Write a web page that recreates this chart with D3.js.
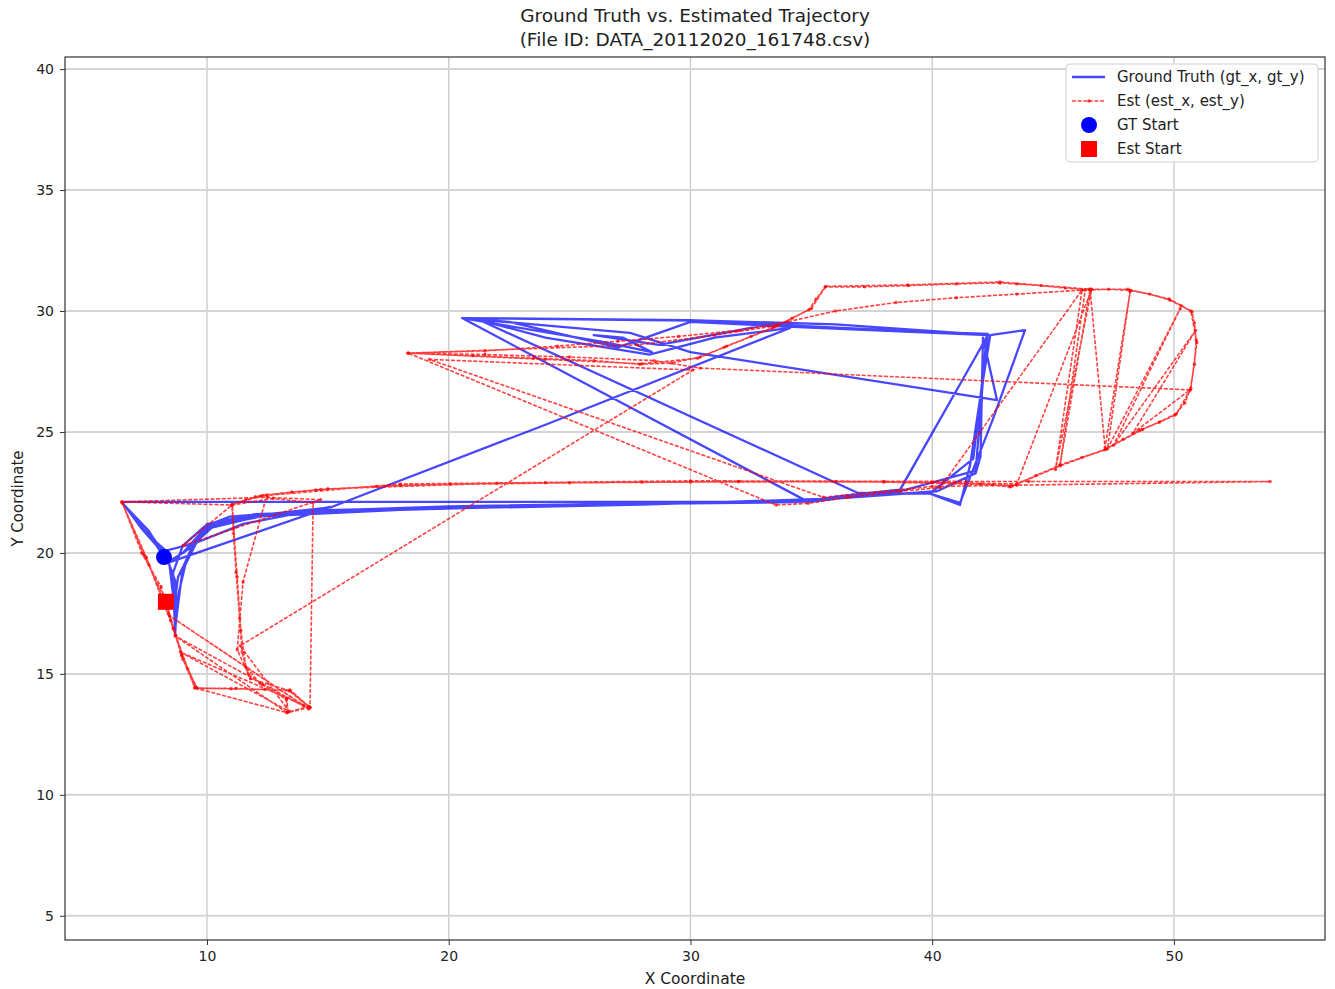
<!DOCTYPE html>
<html>
<head>
<meta charset="utf-8">
<script src="https://cdn.jsdelivr.net/npm/d3@7"></script>
<style>
  body { margin: 0; background: #fff; }
  svg { display: block; }
  text { font-family: "DejaVu Sans", sans-serif; fill: #222; }
</style>
</head>
<body>
<svg id="chart" width="1335" height="989"></svg>
<script>
// Ground-truth trajectory (gt_x, gt_y)
const gtX = [8.22,7.75,7.10,6.48,20.00,34.53,36.20,38.67,42.31,36.00,29.90,20.55,34.87,27.90,20.00,14.00,10.95,9.90,9.00,8.60,
  8.68,8.75,9.10,9.60,10.20,12.50,15.10,24.00,34.12,31.00,28.30,24.00,21.29,36.93,39.91,41.15,41.57,42.00,42.40,43.84,
  42.50,41.15,39.90,41.70,42.30,35.50,30.00,27.00,22.50,20.80,27.50,30.00,42.68,42.10,42.00,41.80,40.20,36.00,28.00,18.00,
  12.00,10.10,9.30,8.40,15.10,11.50,9.50,8.30,7.60,6.90,7.50,8.30,8.70,8.72,9.00,9.50,10.00,14.00,27.90,35.00,
  38.67,41.80,42.25,30.00,20.55,26.50,28.40,27.20,26.00,28.70,33.00,42.30,38.67,34.80,27.00,18.00,12.00,10.50,9.80,9.00,
  8.50,8.00,7.30,6.60,7.60,8.45,8.65,8.80,9.40,10.10,13.00,20.00,28.00,34.50];
const gtY = [19.83,20.55,21.30,22.11,22.11,22.11,22.35,22.62,29.01,29.45,29.62,29.71,22.11,22.05,21.92,21.72,21.50,21.10,20.30,19.20,
  16.57,18.00,19.50,20.50,21.05,21.60,21.88,25.30,29.30,28.90,28.20,28.90,29.62,22.48,22.45,21.98,23.64,26.50,29.00,29.21,
  25.50,22.07,22.45,23.90,29.05,29.30,29.55,28.50,29.55,29.68,29.10,28.30,26.32,28.90,24.00,23.30,22.55,22.25,22.00,21.80,
  21.60,21.20,20.20,19.60,21.90,21.20,20.40,20.10,20.70,21.60,21.00,19.90,18.80,17.20,19.40,20.50,21.20,21.75,22.07,22.12,
  22.55,23.40,29.02,29.60,29.71,28.70,28.30,28.90,29.00,28.60,29.40,29.00,22.60,22.15,22.02,21.78,21.50,21.30,20.90,20.00,
  19.70,20.20,21.00,21.95,20.90,19.50,17.80,19.00,20.20,21.10,21.65,21.85,22.03,22.10];

// Estimated trajectory (est_x, est_y)
const estX = [8.30,8.62,8.95,9.50,11.00,12.40,13.43,14.26,13.31,13.28,12.30,11.70,11.45,11.35,11.20,11.10,11.03,11.60,12.30,13.50,
  14.70,17.00,20.05,24.00,28.00,32.00,36.00,40.00,42.00,43.22,44.30,45.29,46.20,47.15,47.90,48.60,49.40,50.05,50.45,50.67,
  50.85,50.92,50.85,50.75,50.30,49.84,49.00,48.19,47.30,46.53,45.50,44.50,43.50,42.81,41.00,39.00,37.20,35.57,35.20,34.90,
  34.20,33.50,32.50,31.50,30.40,29.20,27.90,26.00,23.50,21.00,18.32,21.50,24.50,27.00,29.50,32.00,34.00,36.00,38.50,41.00,
  43.50,46.33,45.29,46.53,47.15,48.19,47.25,50.26,47.50,50.90,48.30,50.67,30.40,28.50,25.00,21.50,18.32,33.54,34.87,36.50,
  38.67,40.33,46.20,45.10,46.60,43.50,38.00,30.00,22.00,15.00,12.48,11.49,11.25,11.80,13.43,14.26,14.39,12.73,11.03,6.48,
  7.40,8.30,8.70,9.50,13.31,8.68,14.20,8.45,14.00,8.90,13.40,11.37,30.10,19.20,35.50,40.00,43.50,53.98,44.00,30.00,
  18.00,12.20,11.03,9.00,14.70,12.50,6.48,7.30,8.10,8.50,9.00,9.55,8.95,8.40,7.50,6.50,7.60,8.60,9.20,9.60,
  11.20,13.40,14.20,13.35,13.30,12.20,11.60,11.40,11.25,11.10,11.05,12.00,14.50,18.00,25.00,32.00,38.00,42.50,43.30,45.30,
  47.20,48.70,50.10,50.70,50.95,50.70,49.80,48.10,46.50,42.80,39.00,35.60,35.00,33.40,31.40,30.30,28.00,24.00,18.32,27.80,
  31.00,33.60];
const estY = [17.98,16.85,15.75,14.42,14.38,14.36,14.34,13.62,13.39,13.95,14.55,15.00,15.90,17.30,19.20,20.80,21.98,22.20,22.38,22.52,
  22.62,22.75,22.85,22.90,22.93,22.95,22.95,22.92,22.85,22.73,23.20,23.64,23.95,24.26,24.70,25.08,25.40,25.70,26.20,26.74,
  27.80,28.80,29.50,29.96,30.22,30.45,30.70,30.85,30.90,30.87,30.95,31.05,31.12,31.16,31.12,31.05,31.00,30.99,30.50,30.05,
  29.70,29.35,28.95,28.55,28.10,27.85,27.80,27.95,28.05,28.15,28.26,28.35,28.55,28.75,28.95,29.20,29.55,30.00,30.35,30.55,
  30.70,30.87,23.64,30.90,24.35,30.82,24.30,30.10,24.45,29.20,24.95,26.74,27.64,27.95,28.10,28.20,28.26,21.98,22.05,22.30,
  22.55,22.70,30.87,23.45,30.90,22.85,22.95,22.93,22.88,22.65,22.40,18.80,16.00,14.80,14.30,13.60,22.07,22.25,21.98,22.11,
  19.90,18.00,16.60,14.42,13.40,16.57,13.55,17.40,13.70,15.90,13.45,16.16,27.56,28.00,22.30,22.75,22.80,22.95,22.95,22.98,
  22.85,22.35,21.98,20.30,22.20,22.30,22.11,20.00,18.60,17.20,15.60,14.45,15.80,17.50,19.80,22.05,19.50,16.90,15.20,14.40,
  14.40,14.30,13.65,13.42,14.00,14.60,15.30,16.80,19.00,21.00,22.00,22.32,22.60,22.80,22.90,22.95,22.93,22.82,22.76,23.60,
  24.30,25.10,25.75,26.80,28.70,30.00,30.50,30.90,30.90,31.20,31.08,31.02,30.10,29.30,28.50,28.05,27.82,28.00,28.26,28.60,
  29.00,29.40];

const xTicks = [10, 20, 30, 40, 50];
const yTicks = [5, 10, 15, 20, 25, 30, 35, 40];
const titleLines = ["Ground Truth vs. Estimated Trajectory", "(File ID: DATA_20112020_161748.csv)"];
const legendLabels = ["Ground Truth (gt_x, gt_y)", "Est (est_x, est_y)", "GT Start", "Est Start"];

const plot = { left: 65, right: 1325, top: 57, bottom: 940 };
const svg = d3.select("#chart");

const x = d3.scaleLinear().domain([4.125, 56.25]).range([plot.left, plot.right]);
const y = d3.scaleLinear().domain([4.0, 40.5]).range([plot.bottom, plot.top]);

// grid
const grid = svg.append("g");
grid.selectAll("line.gx").data(xTicks).join("line")
  .attr("x1", d => x(d)).attr("x2", d => x(d))
  .attr("y1", plot.top).attr("y2", plot.bottom)
  .attr("stroke", "#c8c8c8").attr("stroke-width", 1.3);
grid.selectAll("line.gy").data(yTicks).join("line")
  .attr("y1", d => y(d)).attr("y2", d => y(d))
  .attr("x1", plot.left).attr("x2", plot.right)
  .attr("stroke", "#d4d4d4").attr("stroke-width", 2);

// trajectories
svg.append("clipPath").attr("id", "clip").append("rect")
  .attr("x", plot.left).attr("y", plot.top)
  .attr("width", plot.right - plot.left).attr("height", plot.bottom - plot.top);
const body = svg.append("g").attr("clip-path", "url(#clip)");

const gt = gtX.map((v, i) => [v, gtY[i]]);
const est = estX.map((v, i) => [v, estY[i]]);
const line = d3.line().x(d => x(d[0])).y(d => y(d[1]));

body.append("path").datum(gt).attr("d", line)
  .attr("fill", "none").attr("stroke", "blue").attr("stroke-width", 2.3)
  .attr("stroke-opacity", 0.72).attr("stroke-linejoin", "round");

body.append("path").datum(est).attr("d", line)
  .attr("fill", "none").attr("stroke", "red").attr("stroke-width", 1.6)
  .attr("stroke-dasharray", "4,1.6").attr("stroke-opacity", 0.75);
body.append("g").selectAll("circle").data(est).join("circle")
  .attr("cx", d => x(d[0])).attr("cy", d => y(d[1])).attr("r", 1.7)
  .attr("fill", "red").attr("fill-opacity", 0.7);

// start markers
body.append("circle").attr("cx", x(gtX[0])).attr("cy", y(gtY[0])).attr("r", 8).attr("fill", "blue");
body.append("rect").attr("x", x(estX[0]) - 8).attr("y", y(estY[0]) - 8)
  .attr("width", 16).attr("height", 16).attr("fill", "red");

// axes
const xAxis = svg.append("g").attr("transform", `translate(0,${plot.bottom})`)
  .call(d3.axisBottom(x).tickValues(xTicks).tickSize(5).tickPadding(6).tickFormat(d3.format("d")));
const yAxis = svg.append("g").attr("transform", `translate(${plot.left},0)`)
  .call(d3.axisLeft(y).tickValues(yTicks).tickSize(5).tickPadding(6).tickFormat(d3.format("d")));
[xAxis, yAxis].forEach(a => {
  a.select(".domain").remove();
  a.selectAll("text").style("font-size", "14px").style("font-family", "DejaVu Sans, sans-serif").attr("fill", "#222");
  a.selectAll("line").attr("stroke", "#333");
});

// frame
svg.append("rect").attr("x", plot.left).attr("y", plot.top)
  .attr("width", plot.right - plot.left).attr("height", plot.bottom - plot.top)
  .attr("fill", "none").attr("stroke", "#333").attr("stroke-width", 1.2);

// labels
svg.append("text").attr("x", (plot.left + plot.right) / 2).attr("y", 984)
  .attr("text-anchor", "middle").style("font-size", "15.5px").text("X Coordinate");
svg.append("text").attr("transform", `translate(23,${(plot.top + plot.bottom) / 2}) rotate(-90)`)
  .attr("text-anchor", "middle").style("font-size", "15px").text("Y Coordinate");
svg.selectAll("text.title").data(titleLines).join("text").attr("class", "title")
  .attr("x", (plot.left + plot.right) / 2).attr("y", (d, i) => 22 + i * 24)
  .attr("text-anchor", "middle").style("font-size", "18.5px").text(d => d);

// legend
const lg = svg.append("g").attr("transform", "translate(1066,64)");
lg.append("rect").attr("width", 252).attr("height", 98).attr("rx", 4)
  .attr("fill", "#fff").attr("fill-opacity", 0.85).attr("stroke", "#d0d0d0");
const rowY = i => 13 + i * 24;
lg.append("line").attr("x1", 6).attr("x2", 39).attr("y1", rowY(0)).attr("y2", rowY(0))
  .attr("stroke", "blue").attr("stroke-width", 2.3).attr("stroke-opacity", 0.72);
lg.append("line").attr("x1", 6).attr("x2", 39).attr("y1", rowY(1)).attr("y2", rowY(1))
  .attr("stroke", "red").attr("stroke-width", 1.6).attr("stroke-dasharray", "4,1.6").attr("stroke-opacity", 0.75);
lg.append("circle").attr("cx", 23).attr("cy", rowY(1)).attr("r", 1.8).attr("fill", "red").attr("fill-opacity", 0.7);
lg.append("circle").attr("cx", 23).attr("cy", rowY(2)).attr("r", 8).attr("fill", "blue");
lg.append("rect").attr("x", 15).attr("y", rowY(3) - 8).attr("width", 16).attr("height", 16).attr("fill", "red");
lg.selectAll("text").data(legendLabels).join("text")
  .attr("x", 51).attr("y", (d, i) => rowY(i) + 5).style("font-size", "15px").text(d => d);
</script>
</body>
</html>
